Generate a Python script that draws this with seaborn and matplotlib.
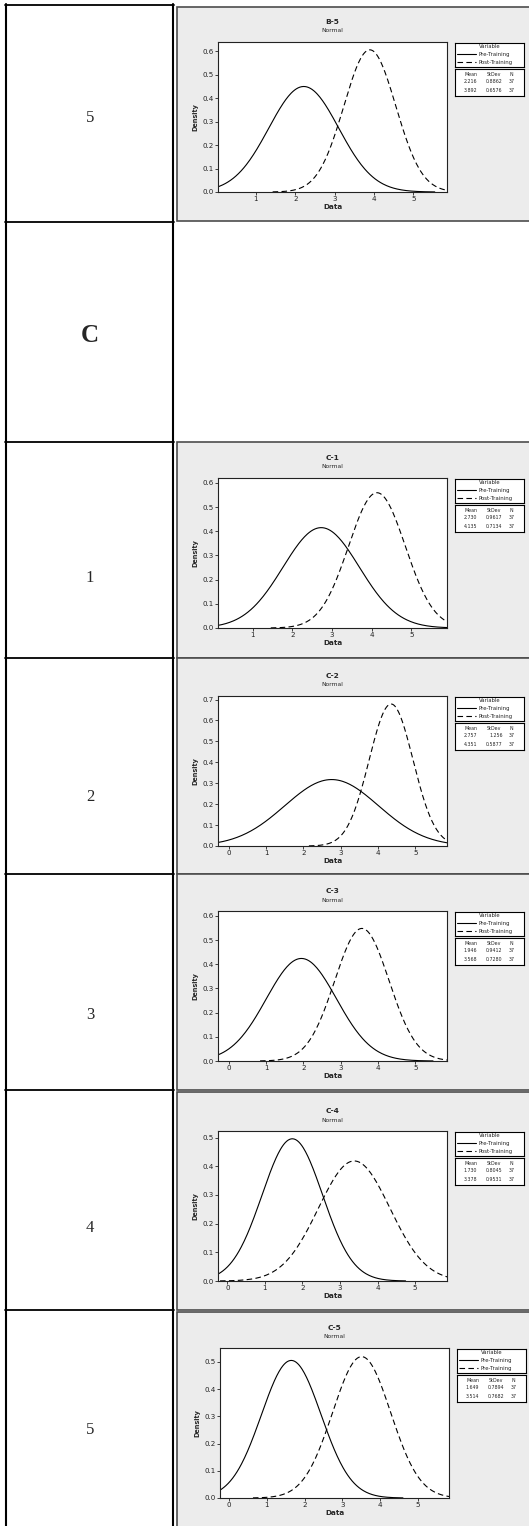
import numpy as np
import pandas as pd
import matplotlib
matplotlib.use("Agg")
import matplotlib.pyplot as plt
import seaborn as sns
from matplotlib.lines import Line2D
from matplotlib.patches import Rectangle

# values (Minitab normal fits)
plot_titles = ["B-5", "C-1", "C-2", "C-3", "C-4", "C-5"]
pre_mean = [2.216, 2.730, 2.757, 1.946, 1.730, 1.649]
pre_sd = [0.8862, 0.9617, 1.256, 0.9412, 0.8045, 0.7894]
post_mean = [3.892, 4.135, 4.351, 3.568, 3.378, 3.514]
post_sd = [0.6576, 0.7134, 0.5877, 0.7280, 0.9531, 0.7682]
n_obs = [37, 37, 37, 37, 37, 37]
legend_labels = [["Pre-Training", "Post-Training"]] * 5 + [["Pre-Training", "Pre-Training"]]
x_limits = [(0.04, 5.85), (0.13, 5.9), (-0.29, 5.85), (-0.29, 5.85), (-0.25, 5.85), (-0.24, 5.83)]
y_max = [0.64, 0.62, 0.717, 0.62, 0.523, 0.551]
x_ticks = [[1, 2, 3, 4, 5], [1, 2, 3, 4, 5]] + [[0, 1, 2, 3, 4, 5]] * 4
y_ticks = [[0, .1, .2, .3, .4, .5, .6], [0, .1, .2, .3, .4, .5, .6],
           [0, .1, .2, .3, .4, .5, .6, .7], [0, .1, .2, .3, .4, .5, .6],
           [0, .1, .2, .3, .4, .5], [0, .1, .2, .3, .4, .5]]
row_labels = ["5", "C", "1", "2", "3", "4", "5"]

W, H = 529, 1526


def fx(px):
    return px / W


def fy(py):
    return 1 - py / H


def normal_curve(mean, sd, name):
    xs = np.linspace(mean - 3.75 * sd, mean + 3.75 * sd, 300)
    dens = np.exp(-0.5 * ((xs - mean) / sd) ** 2) / (sd * np.sqrt(2 * np.pi))
    return pd.DataFrame({"x": xs, "density": dens, "series": name})


sns.set_style("ticks")
plt.rcParams["font.family"] = ["DejaVu Sans"]

fig = plt.figure(figsize=(W / 100, H / 100), dpi=100)
fig.patch.set_facecolor("white")

# left column of the table
row_lines = [5, 222, 442, 658, 874, 1090, 1310]
for y in row_lines:
    fig.add_artist(Line2D([fx(5), fx(173.5)], [fy(y), fy(y)], color="black", lw=1.3, zorder=1))
for x in (6, 172.5):
    fig.add_artist(Line2D([fx(x), fx(x)], [fy(4.3), fy(1530)], color="black", lw=1.5, zorder=1))

label_y = [118, 335, 578, 797, 1015, 1228, 1430]
for lab, y in zip(row_labels, label_y):
    if lab == "C":
        fig.text(fx(90), fy(y), lab, ha="center", va="center", fontsize=18,
                 fontweight="bold", family="Liberation Serif")
    else:
        fig.text(fx(90), fy(y), lab, ha="center", va="center", fontsize=12,
                 family="Liberation Serif")

# grey Minitab panels
panel_spans = [(7, 221), (442, 658), (658, 874), (874, 1090), (1092, 1310), (1312, 1545)]
axes_tops = [42, 478, 696, 911, 1131, 1348]
axes_lefts = [218, 218, 218, 218, 218, 220]
axes_w, axes_h = 229, 150

for i, (top, bottom) in enumerate(panel_spans):
    fig.add_artist(Rectangle((fx(177), fy(bottom)), fx(560) - fx(177), (bottom - top) / H,
                             transform=fig.transFigure, facecolor="#ececec",
                             edgecolor="#4d4d4d", lw=1.2, zorder=0))

    at, al = axes_tops[i], axes_lefts[i]
    ax = fig.add_axes([fx(al), fy(at + axes_h), axes_w / W, axes_h / H])
    ax.set_zorder(2)
    ax.set_facecolor("white")

    df = pd.concat([normal_curve(pre_mean[i], pre_sd[i], "Pre"),
                    normal_curve(post_mean[i], post_sd[i], "Post")], ignore_index=True)
    sns.lineplot(data=df, x="x", y="density", hue="series", style="series",
                 palette={"Pre": "black", "Post": "black"},
                 dashes={"Pre": "", "Post": (5, 3)}, lw=0.8, sort=False,
                 estimator=None, legend=False, ax=ax)

    ax.set_xlim(*x_limits[i])
    ax.set_ylim(0, y_max[i])
    ax.set_xticks(x_ticks[i])
    ax.set_xticklabels([str(t) for t in x_ticks[i]])
    ax.set_yticks(y_ticks[i])
    ax.set_yticklabels([f"{t:.1f}" for t in y_ticks[i]])
    ax.tick_params(direction="out", length=2, width=0.6, labelsize=5.1, pad=1,
                   colors="#222222")
    for sp in ax.spines.values():
        sp.set_visible(True)
        sp.set_linewidth(0.8)
        sp.set_color("#222222")
    ax.set_xlabel("Data", fontsize=5.2, fontweight="bold", labelpad=1.5)
    ax.set_ylabel("Density", fontsize=4.7, fontweight="bold", labelpad=3)

    cx = al + axes_w / 2
    fig.text(fx(cx), fy(at - 20), plot_titles[i], ha="center", va="center",
             fontsize=5.4, fontweight="bold", zorder=4)
    fig.text(fx(cx), fy(at - 11), "Normal", ha="center", va="center",
             fontsize=4.3, zorder=4)

    # legend box
    bl = 455 + (al - 218)
    bw = 69
    lax = fig.add_axes([fx(bl), fy(at + 0.7 + 24.6), bw / W, 24.6 / H])
    lax.set_zorder(3)
    lax.set_xlim(0, bw)
    lax.set_ylim(24.6, 0)
    lax.set_xticks([])
    lax.set_yticks([])
    for sp in lax.spines.values():
        sp.set_linewidth(0.8)
        sp.set_color("black")
    lax.text(34.5, 4.2, "Variable", ha="center", va="center", fontsize=3.8)
    lax.plot([2, 21], [11.6, 11.6], color="black", lw=0.8)
    lax.plot([2, 21], [19.6, 19.6], color="black", lw=0.8, dashes=(5, 3))
    lax.text(23.7, 11.6, legend_labels[i][0], ha="left", va="center", fontsize=3.9)
    lax.text(23.7, 19.6, legend_labels[i][1], ha="left", va="center", fontsize=3.9)

    # stats box
    sax = fig.add_axes([fx(bl), fy(at + 27 + 26.7), bw / W, 26.7 / H])
    sax.set_zorder(3)
    sax.set_xlim(0, bw)
    sax.set_ylim(26.7, 0)
    sax.set_xticks([])
    sax.set_yticks([])
    for sp in sax.spines.values():
        sp.set_linewidth(0.8)
        sp.set_color("black")
    for txt, xc in zip(["Mean", "StDev", "N"], [16, 39, 56.5]):
        sax.text(xc, 5.3, txt, ha="center", va="center", fontsize=3.4)
    rows = [(pre_mean[i], pre_sd[i]), (post_mean[i], post_sd[i])]
    for (m, s), yy in zip(rows, [12.9, 21.5]):
        sax.text(22.3, yy, f"{m:.3f}", ha="right", va="center", fontsize=3.4)
        sax.text(47.7, yy, f"{s:#.4g}", ha="right", va="center", fontsize=3.4)
        sax.text(60, yy, str(n_obs[i]), ha="right", va="center", fontsize=3.4)

fig.savefig("out.png", dpi=100, facecolor="white")
